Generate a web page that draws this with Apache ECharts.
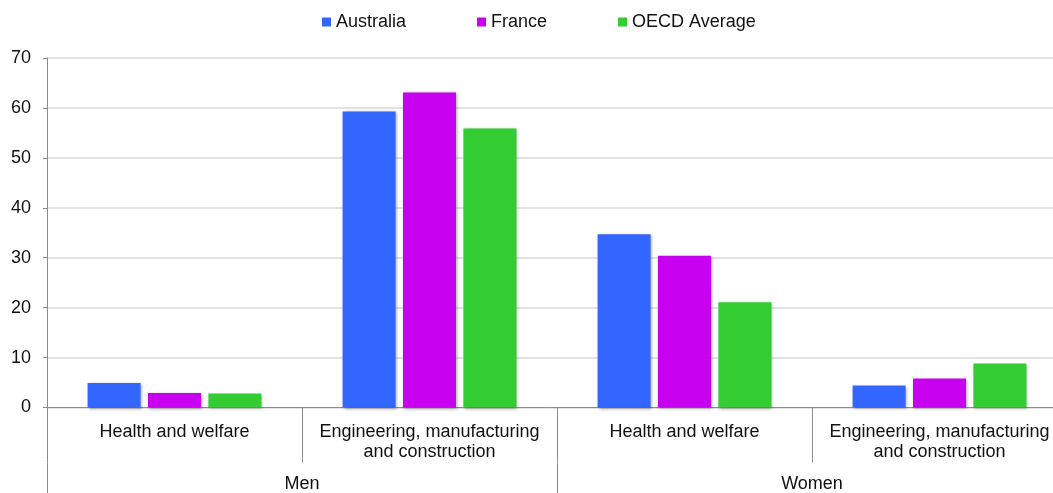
<!DOCTYPE html>
<html>
<head>
<meta charset="utf-8">
<script src="https://cdn.jsdelivr.net/npm/echarts@6/dist/echarts.min.js"></script>
<style>
  html, body { margin: 0; padding: 0; background: #fff; overflow: hidden; }
  #chart { width: 1053px; height: 493px; }
</style>
</head>
<body>
<div id="chart"></div>
<script>
// Field of study categories (inner axis) and sex groups (outer axis)
const fields = [
  'Health and welfare',
  'Engineering, manufacturing\nand construction',
  'Health and welfare',
  'Engineering, manufacturing\nand construction'
];
const groups = ['Men', 'Women'];

// Share of graduates (%)
const australia = [4.9, 59.3, 34.7, 4.4];
const france = [2.9, 63.1, 30.4, 5.8];
const oecdAverage = [2.8, 55.9, 21.1, 8.8];

const yTicks = { min: 0, max: 70, interval: 10 };

const font = 'Liberation Sans, Arial, sans-serif';
const axisGray = '#8c8c8c';

const barStyle = (color) => ({
  color: color,
  shadowColor: 'rgba(0,0,0,0.35)',
  shadowBlur: 3,
  shadowOffsetX: 1,
  shadowOffsetY: 1
});

const chart = echarts.init(document.getElementById('chart'), null, { renderer: 'canvas' });

chart.setOption({
  animation: false,
  backgroundColor: '#ffffff',
  textStyle: { fontFamily: font },
  legend: {
    top: 8,
    left: 317,
    icon: 'rect',
    itemWidth: 9,
    itemHeight: 9,
    itemGap: 71,
    textStyle: { fontSize: 18, color: '#111', fontFamily: font, padding: [0, 0, 0, 0] },
    data: ['Australia', 'France', 'OECD Average']
  },
  // plot area runs past the right edge of the canvas
  grid: {
    left: 47, width: 1020, top: 58, bottom: 85.5,
    containLabel: false, outerBoundsMode: 'none'
  },
  xAxis: [
    {
      type: 'category',
      data: fields,
      position: 'bottom',
      axisLine: { show: true, lineStyle: { color: axisGray, width: 1 } },
      axisTick: { show: true, interval: 0, length: 55, lineStyle: { color: axisGray } },
      axisLabel: {
        interval: 0,
        margin: 15,
        fontSize: 18,
        lineHeight: 20,
        color: '#111',
        fontFamily: font
      }
    },
    {
      type: 'category',
      data: groups,
      position: 'bottom',
      offset: 55,
      axisLine: { show: false },
      axisTick: { show: true, interval: 0, length: 32, lineStyle: { color: axisGray } },
      axisLabel: { interval: 0, margin: 13, fontSize: 18, color: '#111', fontFamily: font }
    }
  ],
  yAxis: {
    type: 'value',
    min: yTicks.min,
    max: yTicks.max,
    interval: yTicks.interval,
    axisLine: { show: true, lineStyle: { color: axisGray } },
    axisTick: { show: true, length: 4, lineStyle: { color: axisGray } },
    axisLabel: { fontSize: 18, color: '#111', margin: 16, fontFamily: font },
    splitLine: { show: true, lineStyle: { color: '#d9d9d9', width: 1.5 } }
  },
  series: [
    {
      name: 'Australia', type: 'bar', xAxisIndex: 0,
      data: australia, barWidth: 53, barGap: '14%',
      itemStyle: barStyle('#3366ff')
    },
    {
      name: 'France', type: 'bar', xAxisIndex: 0,
      data: france, barWidth: 53, barGap: '14%',
      itemStyle: barStyle('#c800f0')
    },
    {
      name: 'OECD Average', type: 'bar', xAxisIndex: 0,
      data: oecdAverage, barWidth: 53, barGap: '14%',
      itemStyle: barStyle('#33cc33')
    }
  ]
});
</script>
</body>
</html>
